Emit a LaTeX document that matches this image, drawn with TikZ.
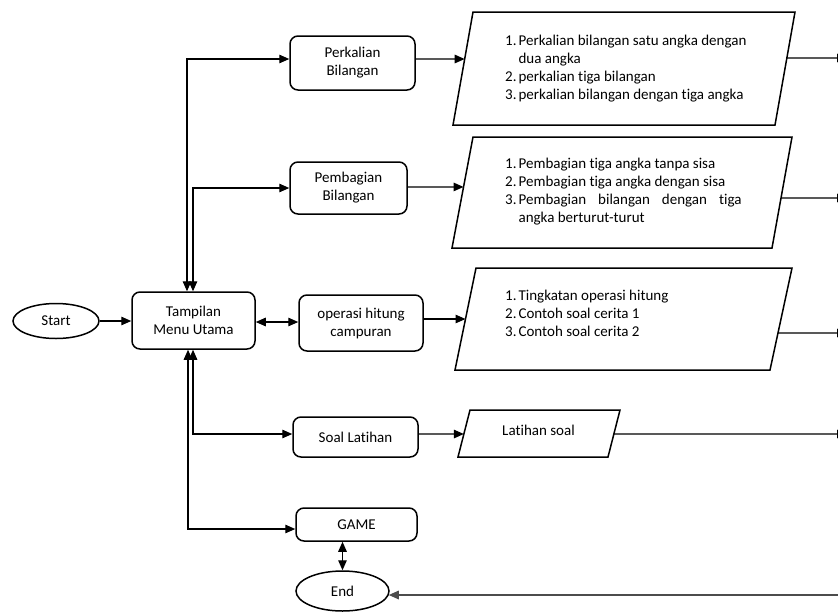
\documentclass[tikz,border=0pt]{standalone}
\usepackage{fontspec}
\setmainfont{Carlito}[Ligatures=NoCommon]
\usetikzlibrary{shapes.geometric,arrows.meta,calc}
\begin{document}
\begin{tikzpicture}[x=1pt,y=-1pt,
  font=\fontsize{15}{18}\selectfont,
  proc/.style={draw,rounded corners=8pt,line width=1.5pt,align=center,inner sep=0pt},
  term/.style={draw,ellipse,line width=1.5pt,inner sep=0pt},
  io/.style={draw,line width=1.5pt},
  txt/.style={anchor=north west,inner sep=0pt},
  conn/.style={line width=1.3pt,-{Triangle[length=10pt,width=8.5pt]}},
  bconn/.style={line width=1.3pt,{Triangle[length=10pt,width=8.5pt]}-{Triangle[length=10pt,width=8.5pt]}},
  ]
\useasboundingbox (0,0) rectangle (838,611);

% main nodes
\node[term,minimum width=86pt,minimum height=35pt] (start) at (56,321) {Start};
\node[proc,minimum width=123pt,minimum height=57pt] (menu) at (193.5,320.5) {Tampilan\\Menu Utama};
\node[proc,minimum width=125pt,minimum height=54pt] (kali) at (352.5,63) {Perkalian\\Bilangan};
\node[proc,minimum width=117pt,minimum height=52pt] (bagi) at (348.5,188) {Pembagian\\Bilangan};
\node[proc,minimum width=124pt,minimum height=56pt] (ops) at (361,323) {operasi hitung\\campuran};
\node[proc,minimum width=125pt,minimum height=40pt] (soal) at (355.5,437) {Soal Latihan};
\node[proc,minimum width=121pt,minimum height=33pt] (game) at (356.5,524.5) {GAME};
\node[term,minimum width=93pt,minimum height=40pt] (end) at (342.5,591) {End};

% parallelogram 1
\coordinate (a1) at (453,125); \coordinate (a2) at (775,125);
\coordinate (a3) at (795,12);  \coordinate (a4) at (473,12);
\draw[io] (a1)--(a2)--(a3)--(a4)--cycle;
\coordinate (ain) at ($(a1)!0.584!(a4)$);
\coordinate (aout) at ($(a2)!0.593!(a3)$);
\node[txt] (ta) at (505,33) {\begin{tabular}[t]{@{}r@{\hspace{2pt}}l@{}}
1.&Perkalian bilangan satu angka dengan\\
  &dua angka\\
2.&perkalian tiga bilangan\\
3.&perkalian bilangan dengan tiga angka
\end{tabular}};

% parallelogram 2
\coordinate (b1) at (452,248); \coordinate (b2) at (772,248);
\coordinate (b3) at (792,137); \coordinate (b4) at (473,137);
\draw[io] (b1)--(b2)--(b3)--(b4)--cycle;
\coordinate (bin) at ($(b1)!0.55!(b4)$);
\coordinate (bout) at ($(b2)!0.45!(b3)$);
\node[txt] (tb) at (505,156) {\begin{tabular}[t]{@{}r@{\hspace{2pt}}l@{}}
1.&Pembagian tiga angka tanpa sisa\\
2.&Pembagian tiga angka dengan sisa\\
3.&\makebox[223pt][s]{Pembagian bilangan dengan tiga}\\
  &angka berturut-turut
\end{tabular}};

% parallelogram 3
\coordinate (c1) at (455,370); \coordinate (c2) at (770,370);
\coordinate (c3) at (792,268); \coordinate (c4) at (476,268);
\draw[io] (c1)--(c2)--(c3)--(c4)--cycle;
\coordinate (cin) at ($(c1)!0.5!(c4)$);
\coordinate (cout) at ($(c2)!0.363!(c3)$);
\node[txt] (tc) at (505,288) {\begin{tabular}[t]{@{}r@{\hspace{2pt}}l@{}}
1.&Tingkatan operasi hitung\\
2.&Contoh soal cerita 1\\
3.&Contoh soal cerita 2
\end{tabular}};

% parallelogram 4
\coordinate (d1) at (458,457); \coordinate (d2) at (608,457);
\coordinate (d3) at (620,410); \coordinate (d4) at (470,410);
\draw[io] (d1)--(d2)--(d3)--(d4)--cycle;
\coordinate (din) at ($(d1)!0.489!(d4)$);
\coordinate (dout) at ($(d2)!0.489!(d3)$);
\node[anchor=west,inner sep=0pt] (td) at (502,430) {Latihan soal};

% free ends at the right border
\coordinate (ea) at (847,58);
\coordinate (eb) at (847,198);
\coordinate (ec) at (847,333);
\coordinate (ed) at (847,434);
\coordinate (ee) at (842,595);

% connectors
\draw[conn] (start.east) -- (menu.west |- start.east);
\draw[bconn] ($(menu.north)+(-6.5,0)$) |- ([yshift=4pt]kali.west);
\draw[bconn] ($(menu.north)+(-0.5,0)$) |- (bagi.west);
\draw[bconn] ($(menu.south)+(-0.5,0)$) |- ([yshift=3pt]soal.west);
\draw[bconn] ($(menu.south)+(-5.5,0)$) |- ([yshift=-4.5pt]game.west);
\draw[bconn] ([yshift=-1.5pt]menu.east) -- ([yshift=-1.5pt]menu.east -| ops.west);

\draw[conn] ([yshift=4pt]kali.east) -- (ain);
\draw[conn] ([yshift=1pt]bagi.east) -- (bin);
\draw[conn] ([yshift=4pt]ops.east) -- (cin);
\draw[conn] ([yshift=3pt]soal.east) -- (din);

\draw[conn] (aout) -- (ea);
\draw[conn] (bout) -- (eb);
\draw[conn] (cout) -- (ec);
\draw[conn] (dout) -- (ed);

\draw[bconn] (end.north) -- (end.north |- game.south);
\draw[conn,line width=1.6pt,black!70] (ee) -- ($(end.east)+(-1,4)$);
\end{tikzpicture}
\end{document}
